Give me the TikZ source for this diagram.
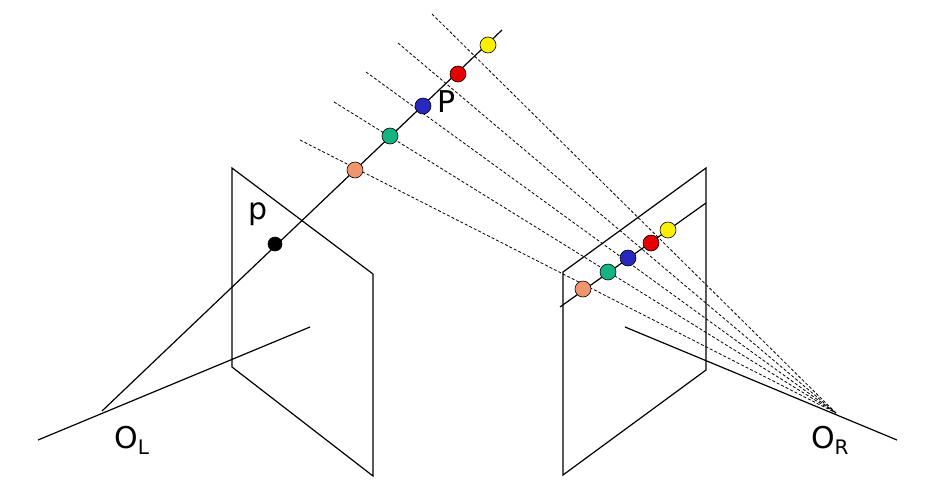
\documentclass[tikz,border=0pt]{standalone}
\usepackage{fontspec}
\setmainfont{DejaVu Sans}
\begin{document}
\begin{tikzpicture}[x=1pt,y=-1pt,
  ln/.style={line width=1.2pt},
  ds/.style={line width=0.8pt,dash pattern=on 3pt off 2pt},
  pt/.style={circle,draw=black,line width=0.6pt,minimum size=16pt,inner sep=0pt},
  lab/.style={font=\fontsize{30}{34}\selectfont}]
\useasboundingbox (0,0) rectangle (940,496);
% planes
\draw[ln] (232,168) -- (373,274) -- (373,476) -- (232,367) -- cycle;
\draw[ln] (706,168) -- (563,272) -- (563,475) -- (706,370) -- cycle;
% baselines
\coordinate (OL) at (102,411);
\coordinate (OR) at (836,413);
\draw[ln] (38,440) -- (310,327);
\draw[ln] (625,327) -- (897,440);
% ray
\coordinate (rtop) at (502,30);
\draw[ln] (OL) -- (rtop);
\draw[ln] (560,307) -- (706,203);
% dashed lines
\coordinate (d1) at (300,140);
\coordinate (d2) at (334,102);
\coordinate (d3) at (366,72);
\coordinate (d4) at (398,43);
\coordinate (d5) at (432,14);
\draw[ds] (d1) -- (OR);
\draw[ds] (d2) -- (OR);
\draw[ds] (d3) -- (OR);
\draw[ds] (d4) -- (OR);
\draw[ds] (d5) -- (OR);
% points
\node[pt,fill=black,minimum size=14pt] (p) at (275,244) {};
\node[pt,fill={rgb,255:red,240;green,150;blue,110}] (a) at (355,170) {};
\node[pt,fill={rgb,255:red,20;green,180;blue,130}] (b) at (390,136) {};
\node[pt,fill={rgb,255:red,40;green,40;blue,190}] (c) at (423,106) {};
\node[pt,fill={rgb,255:red,230;green,0;blue,0}] (d) at (458,74) {};
\node[pt,fill={rgb,255:red,250;green,240;blue,0}] (e) at (488,45) {};
\node[pt,fill={rgb,255:red,240;green,150;blue,110}] (a2) at (583,289) {};
\node[pt,fill={rgb,255:red,20;green,180;blue,130}] (b2) at (608,272) {};
\node[pt,fill={rgb,255:red,40;green,40;blue,190}] (c2) at (628,258) {};
\node[pt,fill={rgb,255:red,230;green,0;blue,0}] (d2p) at (651,243) {};
\node[pt,fill={rgb,255:red,250;green,240;blue,0}] (e2) at (668,230) {};
% labels
\node[lab] (lp) at (258,214) {p};
\node[lab] (lP) at (447,102) {P};
\node[lab] (lOL) at (132,440) {O\textsubscript{\fontsize{20}{22}\selectfont L}};
\node[lab] (lOR) at (830,440) {O\textsubscript{\fontsize{20}{22}\selectfont R}};
\end{tikzpicture}
\end{document}
